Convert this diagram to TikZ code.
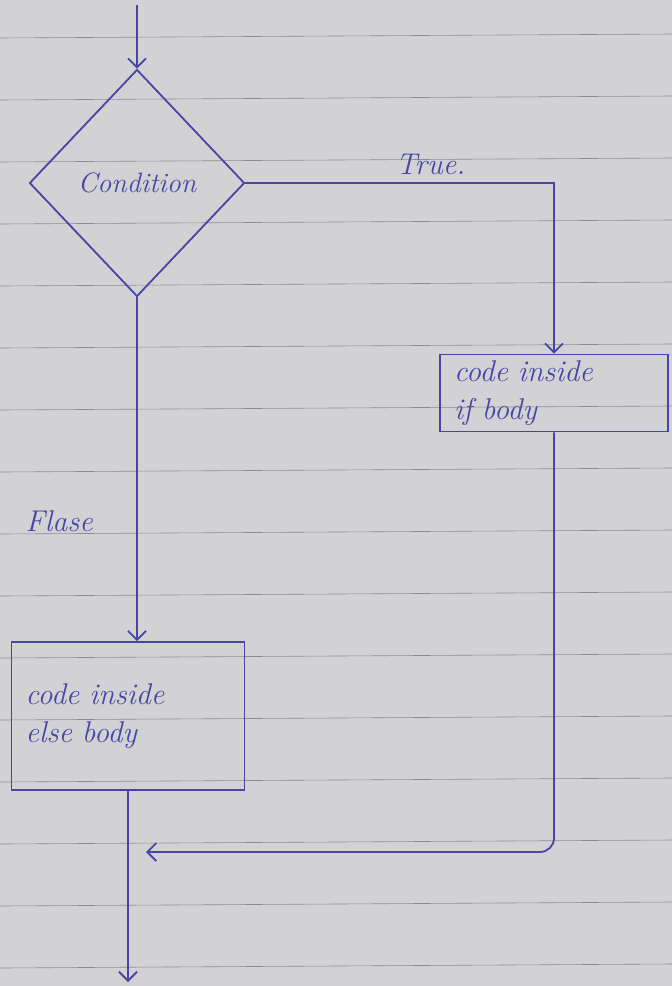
\documentclass[tikz,border=0pt]{standalone}
\usetikzlibrary{shapes.geometric,arrows.meta}
\definecolor{paper}{HTML}{D2D1D3}
\definecolor{rule}{HTML}{8C8B8E}
\definecolor{ink}{HTML}{4A44A6}
\begin{document}
\begin{tikzpicture}[x=1pt,y=-1pt,
  ink/.style={draw=ink,line width=1.8pt},
  flow/.style={ink,-{Straight Barb[length=9pt,width=18pt]}},
  decision/.style={ink,shape=diamond,minimum width=215pt,minimum height=227pt,inner sep=0pt,text=ink,font=\fontsize{28}{32}\selectfont\itshape},
  process/.style={ink,rectangle,inner xsep=14pt,inner ysep=0pt,text=ink,align=left,font=\fontsize{30}{38}\selectfont\itshape},
  lbl/.style={text=ink,font=\fontsize{30}{34}\selectfont\itshape}]
\fill[paper] (0,0) rectangle (672,986);
\useasboundingbox (0,0) rectangle (672,986);
\foreach \y in {38,100,162,224,286,348,410,472,534,596,658,720,782,844,906,968}
  \draw[rule,line width=0.6pt] (0,\y) -- (672,\y-4);
\node[decision] (cond) at (137,183) {Condition};
\node[process,minimum width=228pt,minimum height=77pt,text width=200pt] (ifb) at (554,393) {code inside\\if body};
\node[process,minimum width=233pt,minimum height=148pt,text width=205pt] (elseb) at (128,716) {code inside\\else body};
\coordinate (start) at (137,5);
\coordinate (stop) at (128,982);
\coordinate (merge) at (146,852);
\draw[flow] (start) -- (cond.north);
\draw[flow] (cond.east) -| node[lbl,pos=0.3,above=4pt] {True.} (ifb.north);
\draw[flow] (cond.south) -- node[lbl,pos=0.65,left=40pt] {Flase} (cond.south |- elseb.north);
\draw[flow] (elseb.south) -- (stop);
\draw[flow,rounded corners=14pt] (ifb.south) |- (merge);
\end{tikzpicture}
\end{document}
